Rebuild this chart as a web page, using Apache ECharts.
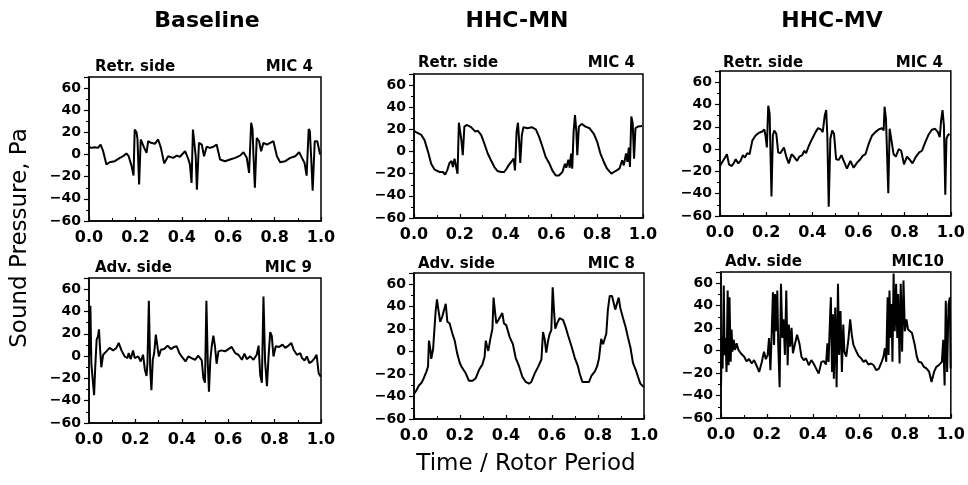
<!DOCTYPE html>
<html>
<head>
<meta charset="utf-8">
<script src="https://cdn.jsdelivr.net/npm/echarts@6/dist/echarts.min.js"></script>
<style>html,body{margin:0;padding:0;background:#fff}#c{width:968px;height:485px}</style>
</head>
<body>
<div id="c"></div>
<script>
// ---- Column titles and panel labels ----
const columnTitles = ['Baseline', 'HHC-MN', 'HHC-MV'];
const sideLabels = ['Retr. side', 'Retr. side', 'Retr. side', 'Adv. side', 'Adv. side', 'Adv. side'];
const micLabels = ['MIC 4', 'MIC 4', 'MIC 4', 'MIC 9', 'MIC 8', 'MIC10'];
const yAxisTitle = 'Sound Pressure, Pa';
const xAxisTitle = 'Time / Rotor Period';

// ---- Series: [time / rotor period, sound pressure Pa] ----
const baselineRetr = [[0,7],[0.010,6],[0.024,6.6],[0.039,6],[0.050,9],[0.061,3],[0.075,-9],[0.089,-7],[0.111,-6],[0.133,-3],[0.147,-1.5],[0.161,1],[0.171,-1.5],[0.183,-10],[0.192,-19],[0.197,22.6],[0.205,20],[0.209,13.6],[0.216,-27],[0.223,13.6],[0.229,15],[0.238,6],[0.248,1.5],[0.255,12],[0.267,10.6],[0.284,9.7],[0.298,13.6],[0.310,6],[0.324,-8],[0.341,-1.5],[0.363,-3],[0.378,-1],[0.392,-2],[0.414,3],[0.428,-4],[0.435,-9],[0.442,-25.7],[0.448,22.6],[0.454,21],[0.460,-1.5],[0.465,-31.7],[0.474,10.6],[0.486,9],[0.496,-1.5],[0.507,7],[0.522,6],[0.536,7],[0.550,9],[0.565,-4.5],[0.586,-6],[0.608,-4.5],[0.630,-3],[0.651,-1],[0.666,2],[0.680,-3],[0.690,-16.6],[0.699,28.7],[0.705,22.6],[0.709,-1.5],[0.715,-30],[0.723,15],[0.733,12],[0.742,3],[0.752,10.6],[0.767,9],[0.781,10.6],[0.795,12],[0.810,-1.5],[0.824,-7],[0.846,-6],[0.867,-3],[0.889,-1.5],[0.906,2],[0.918,-3],[0.929,-7.5],[0.938,-19],[0.947,23],[0.952,21],[0.958,-4.5],[0.964,-32.6],[0.973,12],[0.984,12],[0.996,0]];

const hhcmnRetr = [[0,18.8],[0.013,17],[0.032,15],[0.046,10.3],[0.061,0],[0.075,-11],[0.090,-16.4],[0.112,-18.5],[0.126,-18.5],[0.136,-20.7],[0.145,-17],[0.155,-10.3],[0.164,-8.5],[0.170,-14],[0.177,-6.4],[0.184,-4.9],[0.190,-20],[0.196,26],[0.201,27],[0.207,10.3],[0.213,-3.3],[0.220,22.5],[0.230,24],[0.249,22],[0.268,18],[0.278,18.8],[0.293,15],[0.307,7.3],[0.322,-1.8],[0.336,-7.9],[0.351,-14],[0.365,-17.6],[0.380,-18.5],[0.394,-18.5],[0.404,-15.5],[0.413,-12.5],[0.420,-14],[0.428,-8.5],[0.435,-6.4],[0.441,-17],[0.448,18],[0.454,26],[0.459,10.3],[0.464,-10.3],[0.471,15],[0.478,22],[0.496,21],[0.514,22],[0.532,20],[0.546,13.4],[0.561,4.3],[0.575,-4.9],[0.590,-10.3],[0.604,-17],[0.619,-21.6],[0.633,-21.6],[0.648,-18.5],[0.659,-11],[0.665,-14.6],[0.674,-7.3],[0.680,-14.6],[0.686,-1.8],[0.691,-15.5],[0.697,18],[0.703,33],[0.709,18],[0.713,-3.3],[0.720,22.5],[0.732,25],[0.749,22.5],[0.767,21],[0.786,15.8],[0.800,8.8],[0.814,-1.8],[0.829,-9.4],[0.843,-15.5],[0.862,-20],[0.880,-17.6],[0.897,-15.5],[0.909,-7.9],[0.916,-12.5],[0.926,-1.8],[0.932,-9.4],[0.938,3.6],[0.943,-14],[0.949,31.6],[0.955,25.5],[0.961,-6.4],[0.967,21],[0.978,22.5],[0.996,23]];

const hhcmvRetr = [[0,-15.2],[0.010,-11.6],[0.022,-7.6],[0.030,-4.6],[0.039,-13.7],[0.050,-15.2],[0.061,-12.2],[0.068,-9.1],[0.079,-12.8],[0.089,-10.6],[0.099,-5.5],[0.108,-7.6],[0.118,-3.6],[0.128,-4.6],[0.140,7.6],[0.154,12.2],[0.169,14.6],[0.183,15.8],[0.192,17.6],[0.197,12.2],[0.203,1.5],[0.209,38.9],[0.215,31.9],[0.219,-6.1],[0.223,-42.6],[0.229,12.2],[0.235,16.7],[0.244,13.7],[0.252,-3],[0.262,-3.6],[0.277,1.5],[0.287,-6.7],[0.298,-12.8],[0.310,-4.6],[0.320,-6.7],[0.334,-10.6],[0.344,-6.7],[0.356,-5.5],[0.365,-1.5],[0.373,-3.6],[0.385,3],[0.399,9.1],[0.414,15.2],[0.425,18.8],[0.437,17.6],[0.445,15.2],[0.454,30.4],[0.460,35],[0.465,12.2],[0.471,-51.7],[0.478,9.1],[0.486,16.7],[0.494,13.7],[0.503,-9.1],[0.514,-9.7],[0.526,-5.5],[0.536,-10.6],[0.550,-17.6],[0.565,-10.6],[0.579,-16.7],[0.594,-12.2],[0.608,-9.1],[0.618,-6.1],[0.630,-4.6],[0.644,4.6],[0.659,12.2],[0.673,15.2],[0.687,17.6],[0.702,18.8],[0.709,16.7],[0.713,38],[0.719,27.4],[0.725,-12.2],[0.729,-39.5],[0.735,18.2],[0.742,18.8],[0.752,-4.6],[0.762,-6.7],[0.774,0],[0.785,-1.5],[0.797,-13.7],[0.810,-6.7],[0.820,-9.1],[0.834,-12.8],[0.849,-6.7],[0.863,-3],[0.875,-1.5],[0.889,6.1],[0.903,12.8],[0.918,17.3],[0.932,18.2],[0.944,15.2],[0.952,10.6],[0.958,25.8],[0.964,35],[0.970,21.3],[0.976,-41],[0.981,9.1],[0.987,12.2],[0.994,13.7]];

const baselineAdv = [[0,0],[0.001,2.7],[0.006,45],[0.010,-6.3],[0.016,-21],[0.022,-35],[0.027,-9.4],[0.033,14.8],[0.039,17.8],[0.043,23.9],[0.048,5.7],[0.053,-10],[0.061,1.2],[0.075,4.2],[0.089,7.3],[0.104,5.1],[0.118,7.3],[0.128,11.8],[0.140,5.1],[0.154,-0.3],[0.166,-1.8],[0.171,2.7],[0.180,-2.7],[0.190,5.1],[0.197,-1.8],[0.212,-0.3],[0.223,-4.8],[0.233,1.2],[0.241,-12.4],[0.248,-17.8],[0.252,-6.3],[0.258,49.5],[0.264,-12.4],[0.269,-30.5],[0.275,-3.3],[0.281,2.7],[0.288,19.3],[0.295,17.8],[0.301,-0.3],[0.310,5.7],[0.324,6.3],[0.339,9.4],[0.353,6.3],[0.367,8.2],[0.378,8.8],[0.388,3.3],[0.399,-0.3],[0.416,-4.8],[0.428,-0.3],[0.442,-1.8],[0.457,-3.3],[0.471,0.3],[0.486,-3.9],[0.493,-19.9],[0.500,-23.9],[0.506,49.5],[0.512,-6.3],[0.517,-32],[0.523,-3.3],[0.529,8.8],[0.536,18.4],[0.543,8.8],[0.550,-6.9],[0.558,4.2],[0.572,5.1],[0.586,4.2],[0.601,6.3],[0.615,8.2],[0.630,2.7],[0.644,1.2],[0.659,-3.3],[0.670,2.1],[0.680,-2.7],[0.695,-0.3],[0.709,-3.3],[0.723,1.2],[0.731,9.4],[0.738,-16.9],[0.745,-23.9],[0.752,53.5],[0.759,-4.8],[0.767,-26.9],[0.774,-0.3],[0.781,21.5],[0.788,17.8],[0.795,-0.3],[0.805,8.8],[0.820,8.2],[0.834,10.3],[0.846,7.3],[0.860,9.4],[0.872,11.8],[0.882,5.7],[0.896,1.2],[0.911,2.5],[0.918,-1.8],[0.929,-3.9],[0.939,-0.3],[0.950,-6.3],[0.961,-4.8],[0.973,-1.8],[0.981,1.2],[0.990,-15.4],[0.999,-18.4]];

const hhcmnAdv = [[0,-37.7],[0.010,-34.6],[0.022,-30],[0.032,-27.9],[0.042,-23.9],[0.054,-17.8],[0.061,-13.2],[0.065,9.8],[0.071,2.1],[0.075,-6.4],[0.083,2.1],[0.090,2.8],[0.094,35.8],[0.100,46.6],[0.107,35.8],[0.114,26.6],[0.123,31.2],[0.130,29.7],[0.138,42.6],[0.145,26.6],[0.155,25.1],[0.167,15.9],[0.177,9.8],[0.187,-0.9],[0.199,-10.1],[0.206,-13.2],[0.213,-11.6],[0.225,-19.3],[0.239,-26],[0.254,-26],[0.268,-23.9],[0.283,-16.2],[0.297,-11.6],[0.307,-4.6],[0.312,9.8],[0.317,5.2],[0.323,0.6],[0.332,11.3],[0.341,20.5],[0.346,48.1],[0.352,35.8],[0.358,25.1],[0.367,28.2],[0.375,26.6],[0.384,34.3],[0.391,25.1],[0.401,23.6],[0.416,12.9],[0.430,6.7],[0.442,-5.5],[0.457,-13.2],[0.471,-22.4],[0.486,-27],[0.500,-28.5],[0.510,-27],[0.525,-19.3],[0.539,-13.8],[0.554,-7],[0.561,17.5],[0.568,11.3],[0.575,-0.9],[0.583,9.8],[0.590,15.9],[0.597,19],[0.603,57.3],[0.609,35.8],[0.614,20.5],[0.622,25.1],[0.633,29.7],[0.648,28.2],[0.659,22],[0.670,14.4],[0.684,5.2],[0.699,-5.5],[0.713,-13.2],[0.720,-19.3],[0.732,-27],[0.746,-27],[0.761,-27],[0.771,-21.7],[0.786,-17.8],[0.796,-13.2],[0.804,-6.4],[0.814,11.3],[0.822,6.7],[0.829,11.3],[0.836,15.9],[0.843,37.4],[0.851,49.6],[0.861,49.6],[0.868,43.5],[0.875,37.4],[0.883,35.8],[0.890,48.1],[0.897,38.9],[0.909,29.7],[0.920,22],[0.930,12.9],[0.941,3.7],[0.952,-10.1],[0.964,-16.2],[0.974,-22.4],[0.984,-28.5],[0.999,-31.5]];

const hhcmvAdv = [[0,-31],[0.004,11.2],[0.007,-16],[0.012,58],[0.016,-4],[0.020,11.2],[0.024,-19],[0.029,53.5],[0.033,-13],[0.037,47.4],[0.042,-10],[0.046,18.7],[0.050,-0.9],[0.055,9.7],[0.061,0.6],[0.068,6.6],[0.076,0.6],[0.086,-2.4],[0.101,-5.4],[0.111,-9.4],[0.122,-7.6],[0.134,-11.5],[0.144,-8.5],[0.154,-13],[0.166,-19],[0.177,-10.6],[0.187,-0.9],[0.195,-7.6],[0.203,-3.9],[0.209,11.2],[0.215,-17.5],[0.220,11.2],[0.226,52],[0.231,5.1],[0.235,50.5],[0.239,17.2],[0.245,53.5],[0.249,5.1],[0.255,-32.6],[0.261,59.5],[0.267,11.2],[0.272,27.8],[0.278,-3.9],[0.284,53.5],[0.290,-13],[0.295,23.3],[0.301,3.6],[0.307,20.2],[0.313,-2.4],[0.321,5.1],[0.331,14.2],[0.341,6.6],[0.350,-5.4],[0.360,-8.5],[0.370,-6.9],[0.382,-13],[0.393,-8.5],[0.403,-11.5],[0.414,-16],[0.425,-20.5],[0.437,-10],[0.447,-9.4],[0.457,-12.4],[0.463,6.6],[0.468,-10],[0.474,26.3],[0.478,47.4],[0.483,-19],[0.487,32.3],[0.491,-25],[0.497,38.4],[0.503,-32.6],[0.509,59.5],[0.514,-3.9],[0.520,35.3],[0.526,-19],[0.532,23.3],[0.537,-0.9],[0.545,-5.4],[0.555,11.2],[0.562,27.8],[0.569,14.2],[0.576,5.1],[0.586,0.6],[0.598,-4.5],[0.610,-6.9],[0.620,-10],[0.630,-8.5],[0.641,-12.4],[0.653,-11.5],[0.664,-13],[0.676,-17.5],[0.687,-16],[0.699,-10],[0.707,-5.4],[0.713,2.1],[0.719,-10],[0.725,47.4],[0.729,-4],[0.733,53.5],[0.738,11.2],[0.742,41.4],[0.746,-10],[0.751,68.6],[0.756,17.2],[0.762,59.5],[0.767,11.2],[0.771,50.5],[0.777,-11.5],[0.782,59.5],[0.788,-0.9],[0.794,62.5],[0.800,17.2],[0.807,27.8],[0.814,18.7],[0.821,17.2],[0.831,15.7],[0.843,5.1],[0.852,-5.4],[0.860,-10],[0.872,-10.6],[0.883,-14.5],[0.895,-16],[0.906,-19],[0.916,-28],[0.927,-19],[0.937,-14.5],[0.947,-13],[0.955,-12.4],[0.961,-10],[0.967,9.7],[0.973,-31],[0.978,44.4],[0.984,-19],[0.990,41.4],[0.996,47.4],[0.999,-16]];

const panelData = [baselineRetr, hhcmnRetr, hhcmvRetr, baselineAdv, hhcmnAdv, hhcmvAdv];

// ---- Layout ----
const grids = [
  {left: 89, top: 77, width: 232, height: 144},
  {left: 414, top: 74, width: 229, height: 144},
  {left: 720, top: 71, width: 232, height: 145},
  {left: 89, top: 278, width: 232, height: 145},
  {left: 414, top: 273, width: 230, height: 146},
  {left: 721, top: 272, width: 231, height: 146}
];
const sidePos = [[95,67],[418,63],[723,63],[95,268],[418,264],[725,262]];
const micPos = [[313,67],[635,63],[943,63],[312,268],[635,264],[944,262]];
const titleX = [207, 517, 832];

const FONT = '"DejaVu Sans", sans-serif';

const option = {
  animation: false,
  backgroundColor: '#fff',
  grid: grids.map(g => Object.assign({show: true, borderColor: '#000', borderWidth: 1.5, backgroundColor: 'transparent'}, g)),
  xAxis: grids.map((g, i) => ({
    gridIndex: i, type: 'value', min: 0, max: 1, interval: 0.2,
    axisLine: {show: true, onZero: false, lineStyle: {color: '#000', width: 1.5}},
    axisTick: {show: true, inside: true, length: 4, lineStyle: {color: '#000', width: 1.2}},
    minorTick: {show: true, splitNumber: 2, length: 3, lineStyle: {color: '#000', width: 1}},
    splitLine: {show: false},
    axisLabel: {color: '#000', fontSize: 16, fontWeight: 'bold', fontFamily: FONT, margin: 9,
      formatter: v => v.toFixed(1)}
  })),
  yAxis: grids.map((g, i) => ({
    gridIndex: i, type: 'value', min: -60, max: 70, interval: 20,
    axisLine: {show: true, onZero: false, lineStyle: {color: '#000', width: 1.5}},
    axisTick: {show: true, inside: false, length: 5, lineStyle: {color: '#000', width: 1.2}},
    minorTick: {show: true, splitNumber: 2, length: 3, lineStyle: {color: '#000', width: 1}},
    splitLine: {show: false},
    axisLabel: {color: '#000', fontSize: 14, fontWeight: 'bold', fontFamily: FONT, margin: 8,
      formatter: v => v > 60 ? '' : String(v).replace('-', '\u2212')}
  })),
  series: panelData.map((d, i) => ({
    type: 'line', xAxisIndex: i, yAxisIndex: i, data: d,
    showSymbol: false, symbol: 'none', silent: true,
    lineStyle: {color: '#000', width: 2}
  })),
  graphic: [].concat(
    columnTitles.map((t, i) => ({type: 'text', style: {text: t, x: titleX[i], y: 21, textAlign: 'center', textVerticalAlign: 'middle',
      font: 'bold 22px ' + FONT, fill: '#000'}})),
    sideLabels.map((t, i) => ({type: 'text', style: {text: t, x: sidePos[i][0], y: sidePos[i][1], textAlign: 'left', textVerticalAlign: 'middle',
      font: 'bold 15px ' + FONT, fill: '#000'}})),
    micLabels.map((t, i) => ({type: 'text', style: {text: t, x: micPos[i][0], y: micPos[i][1], textAlign: 'right', textVerticalAlign: 'middle',
      font: 'bold 15px ' + FONT, fill: '#000'}})),
    [
      {type: 'text', x: 20, y: 238, rotation: Math.PI / 2, style: {text: yAxisTitle, x: 0, y: 0, textAlign: 'center', textVerticalAlign: 'middle',
        font: '23px ' + FONT, fill: '#000'}},
      {type: 'text', style: {text: xAxisTitle, x: 526, y: 464, textAlign: 'center', textVerticalAlign: 'middle',
        font: '23px ' + FONT, fill: '#000'}}
    ]
  )
};

const chart = echarts.init(document.getElementById('c'), null, {renderer: 'canvas'});
chart.setOption(option);
</script>
</body>
</html>
